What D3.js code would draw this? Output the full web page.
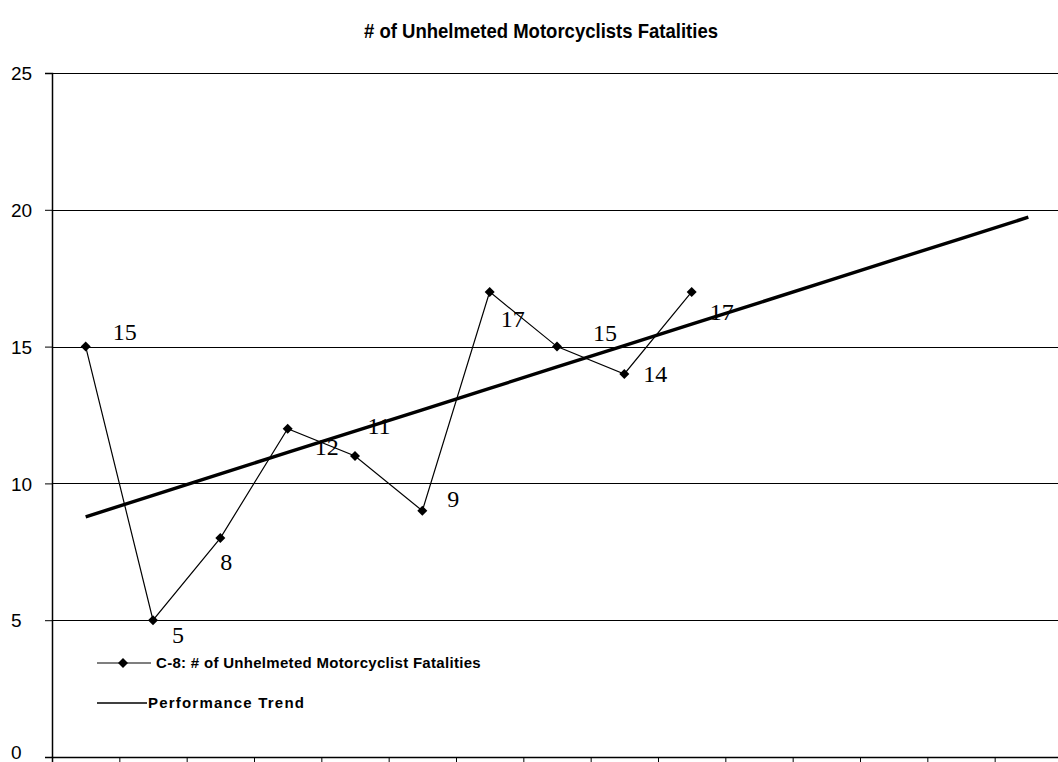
<!DOCTYPE html>
<html>
<head>
<meta charset="utf-8">
<script src="https://cdn.jsdelivr.net/npm/d3@7"></script>
<style>
  body { margin: 0; background: #fff; }
</style>
</head>
<body>
<div id="chart-area"></div>
<script>
// values
var categories = ['1','2','3','4','5','6','7','8','9','10','11','12','13','14','15'];
var fatalities = [15, 5, 8, 12, 11, 9, 17, 15, 14, 17];
var trend = [8.78, 9.56, 10.35, 11.13, 11.91, 12.69, 13.47, 14.26, 15.04, 15.82, 16.6, 17.38, 18.17, 18.95, 19.73];
var yTicks = [0, 5, 10, 15, 20, 25];
var seriesName = 'C-8: # of Unhelmeted Motorcyclist Fatalities';
var trendName = 'Performance Trend';
var title = '# of Unhelmeted Motorcyclists Fatalities';

// label nudges (px) so numbers sit where they do in the original
var labelOff = [[39,-15],[25,14],[6,23],[39,18],[24,-30],[31,-12],[23,27],[48,-14],[31,0],[30,20]];

var def = {
    width: 1058,
    height: 762,
    left: 52,
    right: 1062,
    top: 73,
    bottom: 757
}

var svg = d3.select('#chart-area').append('svg')
    .attr('width', def.width)
    .attr('height', def.height);

var x = d3.scaleBand()
    .domain(categories)
    .range([def.left, def.right]);

var y = d3.scaleLinear()
    .domain([0, 25])
    .range([def.bottom, def.top]);

// title, squeezed a bit to look like the narrow bold original
svg.append('text')
    .attr('x', 541)
    .attr('y', 38)
    .attr('text-anchor', 'middle')
    .attr('font-family', '"Liberation Sans", Arial, sans-serif')
    .attr('font-weight', 'bold')
    .attr('font-size', '21px')
    .attr('textLength', 354)
    .attr('lengthAdjust', 'spacingAndGlyphs')
    .text(title);

// gridlines
svg.append('g')
    .selectAll('line')
    .data(yTicks.filter(d => d > 0))
    .enter().append('line')
    .attr('x1', def.left)
    .attr('x2', def.width)
    .attr('y1', d => Math.round(y(d)) + 0.5)
    .attr('y2', d => Math.round(y(d)) + 0.5)
    .attr('stroke', '#000')
    .attr('stroke-width', 1.2);

// y axis
var yAx = d3.axisLeft(y)
    .tickValues(yTicks)
    .tickSize(7)
    .tickFormat(d3.format('d'));

var yUnit = svg.append('g')
    .attr('transform', 'translate(' + def.left + ',0)')
    .call(yAx);
yUnit.select('.domain').attr('stroke-width', 1.5);
yUnit.selectAll('text')
    .attr('x', -41)
    .attr('dy', d => d == 0 ? '0.1em' : '0.35em')
    .attr('text-anchor', 'start')
    .attr('font-family', '"Liberation Sans", Arial, sans-serif')
    .attr('font-size', '19px')
    .attr('fill', '#000');

// x axis, no labels
var xAx = d3.axisBottom(x)
    .tickSize(6)
    .tickFormat('');
var xUnit = svg.append('g')
    .attr('transform', 'translate(0,' + def.bottom + ')')
    .call(xAx);
xUnit.select('.domain').attr('stroke-width', 1.5);
// ticks sit on band edges like excel
xUnit.selectAll('.tick')
    .attr('transform', d => 'translate(' + (x(d) + 0.5) + ',0)');

// trend
var line = d3.line()
    .x((d, i) => x(categories[i]) + x.bandwidth() / 2)
    .y(d => y(d));

svg.append('path')
    .datum(trend)
    .attr('d', line)
    .attr('fill', 'none')
    .attr('stroke', '#000')
    .attr('stroke-width', 3.4);

// series
svg.append('path')
    .datum(fatalities)
    .attr('d', line)
    .attr('fill', 'none')
    .attr('stroke', '#000')
    .attr('stroke-width', 1.2);

var diamond = d3.symbol().type(d3.symbolSquare).size(50);

svg.append('g')
    .selectAll('path')
    .data(fatalities)
    .enter().append('path')
    .attr('d', diamond)
    .attr('transform', (d, i) => 'translate(' + (x(categories[i]) + x.bandwidth() / 2) + ',' + y(d) + ') rotate(45)')
    .attr('fill', '#000');

svg.append('g')
    .selectAll('text')
    .data(fatalities)
    .enter().append('text')
    .attr('x', (d, i) => x(categories[i]) + x.bandwidth() / 2 + labelOff[i][0])
    .attr('y', (d, i) => y(d) + labelOff[i][1])
    .attr('dy', '0.35em')
    .attr('text-anchor', 'middle')
    .attr('font-family', '"Liberation Serif", "Times New Roman", serif')
    .attr('font-size', '24px')
    .attr('fill', '#000')
    .text(d => d);

// legend
var legend = svg.append('g')
    .attr('font-family', '"Liberation Sans", Arial, sans-serif')
    .attr('font-weight', 'bold')
    .attr('font-size', '15px')
    .attr('letter-spacing', '0.3px');

var row1 = legend.append('g').attr('transform', 'translate(97,663)');
row1.append('line').attr('x1', 0).attr('x2', 54).attr('stroke', '#000').attr('stroke-width', 1.2);
row1.append('path').attr('d', diamond).attr('transform', 'translate(26,0) rotate(45)').attr('fill', '#000');
row1.append('text').attr('x', 59).attr('dy', '0.35em').text(seriesName);

var row2 = legend.append('g').attr('transform', 'translate(97,703)');
row2.append('line').attr('x1', 0).attr('x2', 50).attr('stroke', '#000').attr('stroke-width', 1.5);
row2.append('text').attr('x', 51).attr('dy', '0.35em').attr('letter-spacing', '1.2px').text(trendName);
</script>
</body>
</html>
